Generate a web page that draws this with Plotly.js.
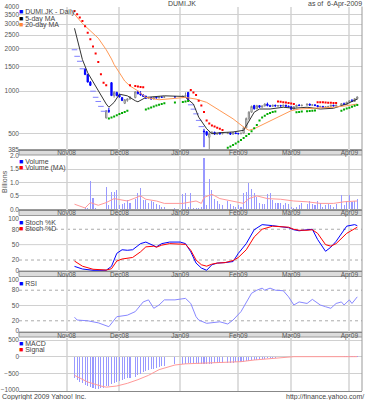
<!DOCTYPE html>
<html><head><meta charset="utf-8">
<script src="https://cdn.plot.ly/plotly-3.0.1.min.js"></script>
<style>html,body{margin:0;padding:0;background:#fff}#chart{width:366px;height:400px}</style>
</head><body><div id="chart"></div>
<script>
// ---------- DATA ----------
const days = ['2008-11-06','2008-11-07','2008-11-10','2008-11-11','2008-11-12','2008-11-13','2008-11-14','2008-11-17','2008-11-18','2008-11-19','2008-11-20','2008-11-21','2008-11-24','2008-11-25','2008-11-26','2008-11-27','2008-11-28',
'2008-12-01','2008-12-02','2008-12-03','2008-12-04','2008-12-05','2008-12-09','2008-12-10','2008-12-11','2008-12-12','2008-12-15','2008-12-16','2008-12-17','2008-12-18','2008-12-19','2008-12-22','2008-12-23','2008-12-24','2008-12-30',
'2009-01-02','2009-01-05','2009-01-06','2009-01-07','2009-01-08','2009-01-09','2009-01-12','2009-01-13','2009-01-14','2009-01-15','2009-01-16','2009-01-19','2009-01-20','2009-01-21','2009-01-22','2009-01-23','2009-01-27','2009-01-28','2009-01-29','2009-01-30',
'2009-02-02','2009-02-03','2009-02-04','2009-02-05','2009-02-06','2009-02-09','2009-02-10','2009-02-11','2009-02-12','2009-02-13','2009-02-16','2009-02-17','2009-02-18','2009-02-19','2009-02-20','2009-02-23','2009-02-24','2009-02-25','2009-02-26','2009-02-27',
'2009-03-02','2009-03-03','2009-03-04','2009-03-05','2009-03-06','2009-03-10','2009-03-11','2009-03-12','2009-03-13','2009-03-16','2009-03-17','2009-03-18','2009-03-19','2009-03-20','2009-03-23','2009-03-24','2009-03-25','2009-03-27','2009-03-30','2009-03-31',
'2009-04-01','2009-04-02','2009-04-03','2009-04-06'];

// days with a real candle
const candleDays = ['2008-11-12','2008-11-13','2008-11-14','2008-11-24','2008-11-25','2008-11-26','2008-11-27','2008-11-28',
'2008-12-01','2008-12-02','2008-12-03','2008-12-04','2008-12-05','2008-12-09','2008-12-10','2008-12-11','2008-12-12','2008-12-15','2008-12-16','2008-12-17','2008-12-18','2008-12-19','2008-12-22','2008-12-23','2008-12-24','2008-12-30',
'2009-01-02','2009-01-05','2009-01-06','2009-01-14','2009-01-15','2009-01-16','2009-01-19','2009-01-20','2009-01-21','2009-01-22','2009-01-23','2009-01-27','2009-01-28','2009-01-29','2009-01-30',
'2009-02-02','2009-02-03','2009-02-04','2009-02-05','2009-02-06','2009-02-09','2009-02-10','2009-02-11','2009-02-12','2009-02-13','2009-02-16','2009-02-17','2009-02-18','2009-02-19','2009-02-20','2009-02-23','2009-02-24','2009-02-25','2009-02-26','2009-02-27',
'2009-03-02','2009-03-03','2009-03-04','2009-03-05','2009-03-06','2009-03-10','2009-03-11','2009-03-12','2009-03-13','2009-03-16','2009-03-17','2009-03-18','2009-03-19','2009-03-20','2009-03-23','2009-03-24','2009-03-25','2009-03-27','2009-03-30','2009-03-31',
'2009-04-01','2009-04-02','2009-04-03','2009-04-06'];
const priceOpen = [1440,1316,1160,645,728,1150,930,980,
940,900,820,860,880,900,990,960,940,920,890,900,880,905,895,910,905,912,
910,920,980,520,515,470,500,510,495,505,497,500,505,495,505,
500,498,503,550,640,710,790,750,790,770,785,810,790,780,795,785,790,785,795,782,
775,745,775,795,790,795,810,795,800,790,775,780,765,775,780,795,785,795,815,805,
835,855,845,885];
const priceHigh = [1440,1316,1180,730,760,1160,1000,990,
960,910,880,890,920,1000,1010,1000,950,930,910,905,910,910,915,915,915,920,
930,980,985,540,520,520,520,515,505,510,505,510,510,510,510,
505,505,560,650,720,790,800,800,795,790,820,830,800,800,800,795,800,800,800,790,
780,780,800,810,800,815,815,805,805,795,785,785,780,785,800,800,800,820,830,840,
860,880,890,920];
const priceLow = [1300,1157,1090,640,700,930,900,920,
900,850,810,840,870,890,950,930,910,880,880,870,875,890,890,900,900,905,
905,910,860,400,480,385,495,490,490,495,495,495,490,490,495,
495,495,500,545,620,700,740,745,760,765,780,780,775,775,780,775,780,780,780,770,
740,740,770,785,780,790,790,785,785,770,765,760,760,770,775,780,780,790,800,800,
830,840,840,870];
const priceClose = [1316,1160,1100,728,720,930,980,930,
910,860,870,880,910,990,960,940,920,890,900,880,905,895,910,905,912,910,
920,930,870,515,490,500,510,495,500,497,500,505,495,505,500,
498,503,550,640,710,780,750,790,770,785,810,790,780,795,785,790,785,795,782,775,
745,775,795,790,795,810,795,800,790,775,780,765,775,780,795,785,795,815,805,835,
855,845,885,910];

// days traded at a single price (drawn as short dashes)
const flatDays = ['2008-11-06','2008-11-07','2008-11-10','2008-11-11','2008-11-17','2008-11-18','2008-11-19','2008-11-20','2008-11-21','2009-01-07','2009-01-08','2009-01-09','2009-01-12','2009-01-13'];
const flatPrice = [1970,1770,1632,1443,1000,905,845,780,720,800,745,690,620,560];

const volume = [0.02,0.02,0.02,0.02,0.03,0.03,1.06,0.41,0.03,0.02,0.02,0.02,0.84,0.15,0.63,0.65,0.72,
0.15,0.2,0.25,0.35,0.25,0.4,0.59,0.81,0.35,0.33,0.25,0.3,0.28,0.2,0.15,0.1,0.08,0.05,
0.56,0.6,0.1,0.6,0.05,0.03,0.05,0.1,1.9,0.15,1.12,0.72,0.4,0.3,0.2,0.15,0.3,0.2,0.12,0.1,
0.15,0.1,0.6,0.65,0.97,0.75,0.6,0.45,0.25,0.2,0.2,0.56,0.6,0.35,0.25,0.22,0.25,0.15,0.25,0.2,
0.1,0.05,0.1,0.15,0.25,0.2,0.3,0.2,0.15,0.3,0.25,0.1,0.15,0.2,0.15,0.1,0.2,0.52,0.15,0.3,
0.52,0.28,0.3,0.37];

const macd = [-650,-700,-760,-800,-850,-880,-920,-940,-955,-960,-950,-930,-890,-865,-820,-780,-750,
-730,-700,-680,-650,-625,-600,-560,-510,-470,-430,-400,-380,-360,-340,-310,-290,-270,-230,
-220,-210,-200,-195,-195,-200,-205,-210,-215,-215,-210,-205,-200,-200,-195,-190,-185,-180,-175,-170,
-165,-160,-150,-140,-125,-110,-95,-85,-75,-65,-55,-45,-38,-30,-25,-20,-15,-10,-8,-5,
-3,-2,0,2,3,3,2,2,1,0,0,-1,0,1,2,3,4,5,7,8,
9,10,12,14];

const sarDownDays = ['2008-11-06','2008-11-07','2008-11-10','2008-11-11','2008-11-12','2008-11-13','2008-11-14','2008-11-17','2008-11-18','2008-11-19','2008-11-20','2008-11-21','2008-11-24',
'2008-12-05','2008-12-09','2008-12-10','2008-12-11','2008-12-12',
'2009-01-07','2009-01-08','2009-01-09','2009-01-12','2009-01-13','2009-01-14','2009-01-15','2009-01-16','2009-01-19','2009-01-20','2009-01-21','2009-01-22','2009-01-23',
'2009-02-23','2009-02-24','2009-02-25','2009-02-26','2009-02-27','2009-03-02','2009-03-03',
'2009-03-16','2009-03-17','2009-03-18','2009-03-19','2009-03-20','2009-03-23','2009-03-24','2009-03-25'];
const sarDown = [3720,3520,3340,3150,2900,2600,2340,2080,1850,1610,1320,1150,1100,
1100,1090,1080,1070,1065,
1020,980,940,855,790,710,620,590,570,560,550,540,530,
845,840,835,830,825,818,811,
835,834,833,831,829,827,825,823];
const sarUpDays = ['2008-11-25','2008-11-26','2008-11-27','2008-11-28','2008-12-01','2008-12-02','2008-12-03','2008-12-04',
'2008-12-15','2008-12-16','2008-12-17','2008-12-18','2008-12-19','2008-12-22','2008-12-23','2008-12-24','2008-12-30','2009-01-02','2009-01-05','2009-01-06',
'2009-01-27','2009-01-28','2009-01-29','2009-01-30','2009-02-02','2009-02-03','2009-02-04','2009-02-05','2009-02-06','2009-02-09','2009-02-10','2009-02-11','2009-02-12','2009-02-13','2009-02-16','2009-02-17','2009-02-18','2009-02-19','2009-02-20',
'2009-03-04','2009-03-05','2009-03-06','2009-03-10','2009-03-11','2009-03-12','2009-03-13',
'2009-03-27','2009-03-30','2009-03-31','2009-04-01','2009-04-02','2009-04-03','2009-04-06'];
const sarUp = [640,650,662,675,688,700,712,725,
740,752,765,778,790,800,810,820,830,838,845,850,
396,405,415,425,437,450,465,480,497,518,545,575,619,650,670,689,700,710,718,
709,712,716,720,723,726,728,
727,740,752,764,776,787,798];

const ma5Days = ['2008-11-06','2008-11-11','2008-11-13','2008-11-19','2008-11-24','2008-11-25','2008-11-27','2008-12-01','2008-12-04','2008-12-09','2008-12-10','2008-12-15','2008-12-18','2008-12-24','2009-01-02','2009-01-05','2009-01-08','2009-01-12','2009-01-15','2009-01-19','2009-01-22','2009-01-29','2009-02-04','2009-02-06','2009-02-10','2009-02-12','2009-02-18','2009-02-25','2009-03-03','2009-03-10','2009-03-17','2009-03-24','2009-03-31','2009-04-06'];
const ma5 = [2800,1677,1352,1005,811,769,833,952,927,855,841,903,918,927,918,903,811,654,541,499,507,513,527,619,709,747,747,769,756,769,747,756,811,879];

const ma20Days = ['2008-11-06','2008-11-11','2008-11-19','2008-11-24','2008-11-26','2008-11-27','2008-12-01','2008-12-03','2008-12-05','2008-12-10','2008-12-15','2008-12-22','2008-12-30','2009-01-05','2009-01-09','2009-01-15','2009-01-22','2009-01-29','2009-02-04','2009-02-06','2009-02-10','2009-02-17','2009-02-24','2009-03-02','2009-03-05','2009-03-13','2009-03-24','2009-03-31','2009-04-06'];
const ma20 = [3524,3032,2381,1972,1695,1547,1353,1181,1089,1005,903,869,889,903,879,833,728,636,556,527,541,603,671,727,747,756,769,788,811];

const volMaDays = ['2008-11-06','2008-11-12','2008-11-14','2008-11-19','2008-11-24','2008-11-27','2008-12-04','2008-12-11','2008-12-15','2008-12-19','2008-12-24','2009-01-02','2009-01-09','2009-01-13','2009-01-14','2009-01-19','2009-01-22','2009-01-29','2009-02-04','2009-02-06','2009-02-11','2009-02-17','2009-02-24','2009-03-03','2009-03-10','2009-03-17','2009-03-24','2009-03-30','2009-04-06'];
const volMa = [0.19,0.05,0.25,0.15,0.25,0.4,0.31,0.5,0.375,0.31,0.22,0.22,0.31,0.22,0.44,0.56,0.4,0.31,0.22,0.4,0.5,0.4,0.375,0.31,0.28,0.22,0.22,0.28,0.31];

const stochDays = ['2008-11-06','2008-11-11','2008-11-17','2008-11-24','2008-11-26','2008-11-28','2008-12-02','2008-12-04','2008-12-08','2008-12-11','2008-12-15','2008-12-18','2008-12-19','2008-12-23','2008-12-26','2009-01-01','2009-01-05','2009-01-07','2009-01-09','2009-01-13','2009-01-15','2009-01-19','2009-01-21','2009-01-26','2009-01-29','2009-02-02','2009-02-05','2009-02-10','2009-02-13','2009-02-19','2009-02-25','2009-02-27','2009-03-03','2009-03-05','2009-03-10','2009-03-12','2009-03-16','2009-03-17','2009-03-19','2009-03-23','2009-03-25','2009-03-31','2009-04-03','2009-04-06'];
const stochK = [7.6,2.5,0,0,7.6,33,40,39,40,52,55,49,45.6,52,55,55,52,36,14,4.4,0,10.8,14,15,17,33,52,79,89,87,85,83,79,77,79,80,60,52,37,45,56.5,86,89,87];
const stochD = [18,8,2,0.5,3,18,22,23,25,36,45.6,47,45,49,52,51,50.6,39,20,10.8,8,12,14,15,19,25,40,65,80,86,85,84,80,78,78,79,72,65,50,47,52,72,82,84];

const rsiDays = ['2008-11-06','2008-11-07','2008-11-13','2008-11-19','2008-11-25','2008-11-28','2008-12-04','2008-12-09','2008-12-12','2008-12-16','2008-12-18','2008-12-22','2008-12-24','2008-12-30','2009-01-05','2009-01-07','2009-01-09','2009-01-12','2009-01-15','2009-01-19','2009-01-22','2009-01-27','2009-01-29','2009-02-03','2009-02-05','2009-02-09','2009-02-11','2009-02-13','2009-02-16','2009-02-18','2009-02-20','2009-02-25','2009-02-27','2009-03-03','2009-03-05','2009-03-10','2009-03-12','2009-03-17','2009-03-19','2009-03-23','2009-03-25','2009-03-27','2009-03-30','2009-04-01','2009-04-02','2009-04-06'];
const rsi = [27,21.5,20,16,8.4,28,31,38,57,61,44.5,51,61,61,64,54,28,21.5,15,16,18,13.7,21.5,38,57,74,80,84,80,84,80,79,67,51,57,54,62,51,47.6,44.5,54,57,51,61,54,67];

const signalDays = ['2008-11-06','2008-11-13','2008-11-20','2008-11-24','2008-11-28','2008-12-04','2008-12-10','2008-12-16','2008-12-22','2008-12-30','2009-01-05','2009-01-12','2009-01-19','2009-01-27','2009-02-03','2009-02-10','2009-02-17','2009-02-25','2009-03-03','2009-04-06'];
const signal = [-560,-760,-880,-915,-880,-800,-690,-560,-390,-250,-215,-195,-185,-170,-150,-100,-60,-10,0,0];

const monthTicks = ['2008-11-03','2008-12-01','2009-01-01','2009-02-02','2009-03-02','2009-04-01'];
const monthLabels = ['Nov08','Dec08','Jan09','Feb09','Mar09','Apr09'];
const priceTicks = [385,500,1000,1500,2000,2500,3000,3500,4000];
const volTicks = [0,0.5,1,1.5,2];
const volTickText = ['0.0','0.5','1.0','1.5','2.0'];
const oscTicks = [0,20,50,80,100];
const macdTicks = [-1000,-500,0,500];

// ---------- STYLE ----------
const FONT = 'Liberation Sans, Arial, sans-serif';
const TXT = '#555';
const xRange = ['2008-10-08', '2009-04-07 19:00'];
function xax(anchor){
  return {type:'date', anchor:anchor, domain:[0,1], range:xRange,
    rangebreaks:[{bounds:['sat','mon']}], rangeslider:{visible:false},
    tickmode:'array', tickvals:monthTicks, ticktext:monthLabels,
    tickfont:{family:FONT,size:6.5,color:TXT}, ticks:'', ticklabelstandoff:-3,
    showgrid:true, gridcolor:'#dedede', gridwidth:2, showline:true, linecolor:'#888', linewidth:1,
    zeroline:false, fixedrange:true};
}
function yax(dom, extra){
  return Object.assign({domain:dom, tickfont:{family:FONT,size:6.5,color:TXT}, ticks:'', ticklabelstandoff:-1,
    showgrid:true, gridcolor:'#d0d0d0', gridwidth:1, zeroline:false, showline:false, fixedrange:true}, extra);
}
const P = y => 1 - y/400; // pixel -> paper

const traces = [
  {type:'candlestick', x:candleDays, open:priceOpen, high:priceHigh, low:priceLow, close:priceClose,
   xaxis:'x', yaxis:'y', whiskerwidth:0,
   increasing:{line:{color:'#888888',width:1}, fillcolor:'#ffffff'},
   decreasing:{line:{color:'#0000ff',width:1}, fillcolor:'#0000ff'}, showlegend:false, hoverinfo:'skip'},
  {type:'scatter', mode:'markers', x:flatDays, y:flatPrice, xaxis:'x', yaxis:'y',
   marker:{symbol:'line-ew', size:4, line:{color:'#8080ff', width:1}}, hoverinfo:'skip'},
  {type:'scatter', mode:'lines', x:ma5Days, y:ma5, xaxis:'x', yaxis:'y', line:{color:'#333333',width:1}, hoverinfo:'skip'},
  {type:'scatter', mode:'lines', x:ma20Days, y:ma20, xaxis:'x', yaxis:'y', line:{color:'#ff9955',width:1}, hoverinfo:'skip'},
  {type:'scatter', mode:'markers', x:sarDownDays, y:sarDown, xaxis:'x', yaxis:'y', marker:{color:'#ff0000',size:2,symbol:'square'}, hoverinfo:'skip'},
  {type:'scatter', mode:'markers', x:sarUpDays, y:sarUp, xaxis:'x', yaxis:'y', marker:{color:'#00aa00',size:2,symbol:'square'}, hoverinfo:'skip'},
  {type:'bar', x:days, y:volume, xaxis:'x2', yaxis:'y2', marker:{color:'#9999ff',line:{width:0}}, width:0.4*864e5, hoverinfo:'skip'},
  {type:'scatter', mode:'lines', x:volMaDays, y:volMa, xaxis:'x2', yaxis:'y2', line:{color:'#ff9999',width:1}, hoverinfo:'skip'},
  {type:'scatter', mode:'lines', x:stochDays, y:stochK, xaxis:'x3', yaxis:'y3', line:{color:'#0000ff',width:1}, hoverinfo:'skip'},
  {type:'scatter', mode:'lines', x:stochDays, y:stochD, xaxis:'x3', yaxis:'y3', line:{color:'#ff0000',width:1}, hoverinfo:'skip'},
  {type:'scatter', mode:'lines', x:rsiDays, y:rsi, xaxis:'x4', yaxis:'y4', line:{color:'#8888ff',width:1}, hoverinfo:'skip'},
  {type:'bar', x:days, y:macd, xaxis:'x5', yaxis:'y5', marker:{color:'#9999ff',line:{width:0}}, width:0.4*864e5, hoverinfo:'skip'},
  {type:'scatter', mode:'lines', x:signalDays, y:signal, xaxis:'x5', yaxis:'y5', line:{color:'#ff9999',width:1}, hoverinfo:'skip'}
];

const shapes = [];
[[149.5,155],[209.5,215.5],[271,276.5],[332,337]].forEach(s=>{
  shapes.push({type:'rect', xref:'paper', yref:'paper', x0:0, x1:1, y0:P(s[1]), y1:P(s[0]), fillcolor:'#dcdcdc', line:{color:'#999',width:1}, layer:'below'});
});
[[6.5,149.5],[155,209.5],[215.5,271],[276.5,332],[337,391]].forEach(s=>{
  shapes.push({type:'line', xref:'paper', yref:'paper', x0:1, x1:1, y0:P(s[1]), y1:P(s[0]), line:{color:'#999',width:1}});
});
[['y3',20],['y3',80],['y4',20],['y4',80]].forEach(r=>{
  shapes.push({type:'line', xref:'paper', yref:r[0], x0:0, x1:1, y0:r[1], y1:r[1], line:{color:'#aaa',width:1,dash:'dot'}, layer:'below'});
});
shapes.push({type:'line', xref:'paper', yref:'y3', x0:0, x1:1, y0:50, y1:50, line:{color:'#d0d0d0',width:1}, layer:'below'});
shapes.push({type:'line', xref:'paper', yref:'y4', x0:0, x1:1, y0:50, y1:50, line:{color:'#d0d0d0',width:1}, layer:'below'});

const sq = c => '<span style="color:'+c+'">■</span> ';
function leg(text, color, ypx){
  return {xref:'paper', yref:'paper', x:-0.006, y:P(ypx), xanchor:'left', yanchor:'middle', showarrow:false,
    text: sq(color)+text, font:{family:FONT,size:7,color:'#444'}};
}
const annotations = [
  {xref:'paper', yref:'paper', x:(182-19)/343.5, y:P(3.5), xanchor:'center', yanchor:'middle', showarrow:false, text:'DUMI.JK', font:{family:FONT,size:7,color:'#444'}},
  {xref:'paper', yref:'paper', x:(365-19)/343.5, y:P(3.5), xanchor:'right', yanchor:'middle', showarrow:false, text:'as of  6-Apr-2009', font:{family:FONT,size:7,color:'#444'}},
  {xref:'paper', yref:'paper', x:-19/343.5, y:P(396.5), xanchor:'left', yanchor:'middle', showarrow:false, text:'Copyright 2009 Yahoo! Inc.', font:{family:FONT,size:7,color:'#444'}},
  {xref:'paper', yref:'paper', x:(367-19)/343.5, y:P(396.5), xanchor:'right', yanchor:'middle', showarrow:false, text:'http://finance.yahoo.com/', font:{family:FONT,size:7,color:'#444'}},
  {xref:'paper', yref:'paper', x:(4-19)/343.5, y:P(182), xanchor:'center', yanchor:'middle', textangle:-90, showarrow:false, text:'Billions', font:{family:FONT,size:7,color:'#555'}},
  leg('DUMI.JK - Daily','#0000ff',12.3), leg('5-day MA','#000000',18.5), leg('20-day MA','#ff8833',24.7),
  leg('Volume','#0000ff',161.7), leg('Volume (MA)','#ff0000',167.7),
  leg('Stoch %K','#0000ff',222.7), leg('Stoch %D','#ff0000',228.7),
  leg('RSI','#0000ff',283.3),
  leg('MACD','#0000ff',343.5), leg('Signal','#ff0000',349.7)
];

const layout = {
  width:366, height:400, margin:{l:19,r:3.5,t:0,b:0}, paper_bgcolor:'#fff', plot_bgcolor:'#fff',
  showlegend:false, bargap:0,
  xaxis:xax('y'), xaxis2:xax('y2'), xaxis3:xax('y3'), xaxis4:xax('y4'),
  xaxis5:Object.assign(xax('y5'),{showticklabels:false}),
  yaxis:yax([P(149.5),P(6.5)], {type:'log', range:[Math.log10(385),Math.log10(4000)], tickmode:'array', tickvals:priceTicks, ticktext:priceTicks.map(String), anchor:'x'}),
  yaxis2:yax([P(209.5),P(155)], {range:[-0.0075,2.026], tickmode:'array', tickvals:volTicks, ticktext:volTickText, anchor:'x2'}),
  yaxis3:yax([P(271),P(215.5)], {range:[-1.4,106.8], tickmode:'array', tickvals:oscTicks, anchor:'x3', showgrid:false}),
  yaxis4:yax([P(332),P(276.5)], {range:[-2,106.9], tickmode:'array', tickvals:oscTicks, anchor:'x4', showgrid:false}),
  yaxis5:yax([P(391),P(337)], {range:[-1030,590], tickmode:'array', tickvals:macdTicks, anchor:'x5'}),
  shapes:shapes, annotations:annotations
};

Plotly.newPlot('chart', traces, layout, {staticPlot:true, displayModeBar:false});
</script>
</body></html>
